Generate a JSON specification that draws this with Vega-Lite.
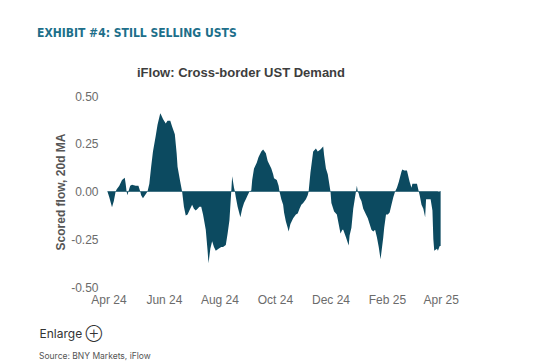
{
  "$schema": "https://vega.github.io/schema/vega-lite/v6.json",
  "background": "white",
  "padding": {"left": 37, "top": 26, "right": 5, "bottom": 3},
  "config": {"view": {"stroke": null}, "font": "Liberation Sans"},
  "title": {"text": "EXHIBIT #4: STILL SELLING USTS", "anchor": "start", "font": "'DejaVu Sans Condensed', 'Liberation Sans', sans-serif", "fontSize": 12, "fontWeight": "bold", "color": "#1d6f8a", "dx": -2, "offset": 27},
  "vconcat": [
    {
      "title": {"text": "Source:  BNY Markets, iFlow", "orient": "bottom", "anchor": "start", "font": "Inter", "fontSize": 8.5, "fontWeight": "normal", "color": "#555555", "dx": 0, "offset": 12.5},
      "vconcat": [
        {
          "width": 345,
          "height": 191,
          "title": {"text": "iFlow: Cross-border UST Demand", "font": "Liberation Sans", "fontSize": 13, "fontWeight": "bold", "color": "#3d3d3d", "anchor": "middle", "dx": -33.5, "offset": 10.5},
          "data": {"values": [
            {"date": "2024-03-31", "flow": 0},
            {"date": "2024-04-02", "flow": -0.03},
            {"date": "2024-04-05", "flow": -0.082},
            {"date": "2024-04-07", "flow": -0.05},
            {"date": "2024-04-09", "flow": 0},
            {"date": "2024-04-10", "flow": 0.01},
            {"date": "2024-04-13", "flow": 0.03},
            {"date": "2024-04-16", "flow": 0.06},
            {"date": "2024-04-19", "flow": 0.072},
            {"date": "2024-04-20", "flow": 0.04},
            {"date": "2024-04-21", "flow": 0},
            {"date": "2024-04-22", "flow": -0.02},
            {"date": "2024-04-23", "flow": 0},
            {"date": "2024-04-25", "flow": 0.03},
            {"date": "2024-04-27", "flow": 0.035},
            {"date": "2024-05-01", "flow": 0.03},
            {"date": "2024-05-04", "flow": 0.03},
            {"date": "2024-05-06", "flow": 0},
            {"date": "2024-05-07", "flow": -0.02},
            {"date": "2024-05-09", "flow": -0.035},
            {"date": "2024-05-12", "flow": -0.015},
            {"date": "2024-05-14", "flow": 0},
            {"date": "2024-05-16", "flow": 0.04},
            {"date": "2024-05-18", "flow": 0.13},
            {"date": "2024-05-20", "flow": 0.21},
            {"date": "2024-05-23", "flow": 0.29},
            {"date": "2024-05-25", "flow": 0.35},
            {"date": "2024-05-28", "flow": 0.41},
            {"date": "2024-05-29", "flow": 0.40},
            {"date": "2024-05-31", "flow": 0.38},
            {"date": "2024-06-03", "flow": 0.356},
            {"date": "2024-06-05", "flow": 0.37},
            {"date": "2024-06-08", "flow": 0.37},
            {"date": "2024-06-10", "flow": 0.34},
            {"date": "2024-06-13", "flow": 0.30},
            {"date": "2024-06-15", "flow": 0.20},
            {"date": "2024-06-16", "flow": 0.13},
            {"date": "2024-06-19", "flow": 0.05},
            {"date": "2024-06-21", "flow": 0},
            {"date": "2024-06-23", "flow": -0.08},
            {"date": "2024-06-25", "flow": -0.125},
            {"date": "2024-06-27", "flow": -0.12},
            {"date": "2024-06-29", "flow": -0.10},
            {"date": "2024-07-02", "flow": -0.07},
            {"date": "2024-07-04", "flow": -0.09},
            {"date": "2024-07-06", "flow": -0.10},
            {"date": "2024-07-08", "flow": -0.09},
            {"date": "2024-07-10", "flow": -0.08},
            {"date": "2024-07-12", "flow": -0.08},
            {"date": "2024-07-14", "flow": -0.12},
            {"date": "2024-07-17", "flow": -0.20},
            {"date": "2024-07-19", "flow": -0.31},
            {"date": "2024-07-20", "flow": -0.376},
            {"date": "2024-07-22", "flow": -0.30},
            {"date": "2024-07-24", "flow": -0.26},
            {"date": "2024-07-26", "flow": -0.29},
            {"date": "2024-07-28", "flow": -0.31},
            {"date": "2024-07-31", "flow": -0.30},
            {"date": "2024-08-03", "flow": -0.29},
            {"date": "2024-08-05", "flow": -0.29},
            {"date": "2024-08-08", "flow": -0.28},
            {"date": "2024-08-10", "flow": -0.22},
            {"date": "2024-08-12", "flow": -0.15},
            {"date": "2024-08-14", "flow": 0},
            {"date": "2024-08-15", "flow": 0.08},
            {"date": "2024-08-17", "flow": 0.02},
            {"date": "2024-08-18", "flow": 0},
            {"date": "2024-08-19", "flow": -0.03},
            {"date": "2024-08-21", "flow": -0.08},
            {"date": "2024-08-24", "flow": -0.135},
            {"date": "2024-08-26", "flow": -0.09},
            {"date": "2024-08-28", "flow": -0.06},
            {"date": "2024-08-30", "flow": -0.04},
            {"date": "2024-09-01", "flow": -0.02},
            {"date": "2024-09-03", "flow": 0},
            {"date": "2024-09-05", "flow": 0.005},
            {"date": "2024-09-06", "flow": 0.06},
            {"date": "2024-09-08", "flow": 0.12},
            {"date": "2024-09-11", "flow": 0.15},
            {"date": "2024-09-13", "flow": 0.18},
            {"date": "2024-09-16", "flow": 0.21},
            {"date": "2024-09-18", "flow": 0.22},
            {"date": "2024-09-21", "flow": 0.20},
            {"date": "2024-09-23", "flow": 0.16},
            {"date": "2024-09-25", "flow": 0.14},
            {"date": "2024-09-27", "flow": 0.12},
            {"date": "2024-09-29", "flow": 0.09},
            {"date": "2024-09-30", "flow": 0.07},
            {"date": "2024-10-03", "flow": 0.06},
            {"date": "2024-10-05", "flow": 0.03},
            {"date": "2024-10-06", "flow": 0},
            {"date": "2024-10-08", "flow": -0.04},
            {"date": "2024-10-10", "flow": -0.07},
            {"date": "2024-10-11", "flow": -0.11},
            {"date": "2024-10-13", "flow": -0.157},
            {"date": "2024-10-15", "flow": -0.19},
            {"date": "2024-10-16", "flow": -0.21},
            {"date": "2024-10-18", "flow": -0.17},
            {"date": "2024-10-21", "flow": -0.14},
            {"date": "2024-10-24", "flow": -0.12},
            {"date": "2024-10-26", "flow": -0.115},
            {"date": "2024-10-28", "flow": -0.09},
            {"date": "2024-10-30", "flow": -0.07},
            {"date": "2024-11-01", "flow": -0.06},
            {"date": "2024-11-04", "flow": -0.04},
            {"date": "2024-11-06", "flow": -0.02},
            {"date": "2024-11-07", "flow": 0},
            {"date": "2024-11-09", "flow": 0.10},
            {"date": "2024-11-12", "flow": 0.21},
            {"date": "2024-11-15", "flow": 0.225},
            {"date": "2024-11-17", "flow": 0.21},
            {"date": "2024-11-20", "flow": 0.22},
            {"date": "2024-11-23", "flow": 0.236},
            {"date": "2024-11-24", "flow": 0.19},
            {"date": "2024-11-26", "flow": 0.12},
            {"date": "2024-11-28", "flow": 0.09},
            {"date": "2024-11-29", "flow": 0.06},
            {"date": "2024-12-01", "flow": 0},
            {"date": "2024-12-02", "flow": -0.06},
            {"date": "2024-12-05", "flow": -0.105},
            {"date": "2024-12-08", "flow": -0.12},
            {"date": "2024-12-10", "flow": -0.17},
            {"date": "2024-12-12", "flow": -0.22},
            {"date": "2024-12-14", "flow": -0.20},
            {"date": "2024-12-15", "flow": -0.20},
            {"date": "2024-12-18", "flow": -0.24},
            {"date": "2024-12-21", "flow": -0.283},
            {"date": "2024-12-22", "flow": -0.23},
            {"date": "2024-12-24", "flow": -0.19},
            {"date": "2024-12-26", "flow": -0.09},
            {"date": "2024-12-28", "flow": -0.03},
            {"date": "2024-12-29", "flow": 0},
            {"date": "2024-12-30", "flow": 0.03},
            {"date": "2024-12-31", "flow": 0},
            {"date": "2025-01-01", "flow": -0.01},
            {"date": "2025-01-02", "flow": -0.03},
            {"date": "2025-01-04", "flow": -0.05},
            {"date": "2025-01-06", "flow": -0.09},
            {"date": "2025-01-09", "flow": -0.12},
            {"date": "2025-01-11", "flow": -0.14},
            {"date": "2025-01-13", "flow": -0.17},
            {"date": "2025-01-15", "flow": -0.20},
            {"date": "2025-01-17", "flow": -0.21},
            {"date": "2025-01-19", "flow": -0.20},
            {"date": "2025-01-21", "flow": -0.24},
            {"date": "2025-01-23", "flow": -0.29},
            {"date": "2025-01-25", "flow": -0.355},
            {"date": "2025-01-28", "flow": -0.24},
            {"date": "2025-01-29", "flow": -0.19},
            {"date": "2025-01-31", "flow": -0.12},
            {"date": "2025-02-02", "flow": -0.12},
            {"date": "2025-02-04", "flow": -0.11},
            {"date": "2025-02-06", "flow": -0.07},
            {"date": "2025-02-08", "flow": -0.03},
            {"date": "2025-02-10", "flow": 0},
            {"date": "2025-02-12", "flow": 0.02},
            {"date": "2025-02-14", "flow": 0.05},
            {"date": "2025-02-17", "flow": 0.105},
            {"date": "2025-02-18", "flow": 0.115},
            {"date": "2025-02-20", "flow": 0.11},
            {"date": "2025-02-23", "flow": 0.11},
            {"date": "2025-02-26", "flow": 0.05},
            {"date": "2025-02-28", "flow": 0.02},
            {"date": "2025-03-01", "flow": 0.04},
            {"date": "2025-03-03", "flow": 0.04},
            {"date": "2025-03-06", "flow": 0.04},
            {"date": "2025-03-08", "flow": 0},
            {"date": "2025-03-09", "flow": -0.02},
            {"date": "2025-03-11", "flow": -0.07},
            {"date": "2025-03-13", "flow": -0.09},
            {"date": "2025-03-15", "flow": -0.135},
            {"date": "2025-03-16", "flow": -0.04},
            {"date": "2025-03-18", "flow": -0.04},
            {"date": "2025-03-20", "flow": -0.04},
            {"date": "2025-03-21", "flow": -0.04},
            {"date": "2025-03-23", "flow": -0.10},
            {"date": "2025-03-24", "flow": -0.25},
            {"date": "2025-03-25", "flow": -0.31},
            {"date": "2025-03-28", "flow": -0.30},
            {"date": "2025-03-29", "flow": -0.31},
            {"date": "2025-03-31", "flow": -0.285},
            {"date": "2025-04-01", "flow": -0.285}
          ]},
          "encoding": {
            "x": {
              "field": "date",
              "type": "temporal",
              "scale": {"type": "utc", "domain": [{"year": 2024, "month": "mar", "date": 25, "utc": true}, {"year": 2025, "month": "apr", "date": 8, "utc": true}]},
              "axis": {
                "values": [
                  {"year": 2024, "month": "apr", "date": 1, "utc": true},
                  {"year": 2024, "month": "jun", "date": 1, "utc": true},
                  {"year": 2024, "month": "aug", "date": 1, "utc": true},
                  {"year": 2024, "month": "oct", "date": 1, "utc": true},
                  {"year": 2024, "month": "dec", "date": 1, "utc": true},
                  {"year": 2025, "month": "feb", "date": 1, "utc": true},
                  {"year": 2025, "month": "apr", "date": 1, "utc": true}
                ],
                "format": "%b %y",
                "labelFont": "Liberation Sans",
                "labelFontSize": 12,
                "labelColor": "#6b6b6b",
                "labelPadding": 7,
                "labelFlush": false,
                "ticks": false,
                "domain": false,
                "grid": false,
                "title": "Enlarge ⊕",
                "titleFont": "Inter",
                "titleFontSize": 12,
                "titleFontWeight": "normal",
                "titleColor": "#333333",
                "titleX": -63,
                "titleAlign": "left",
                "titlePadding": 23
              }
            },
            "y": {
              "field": "flow",
              "type": "quantitative",
              "scale": {"domain": [-0.5, 0.5], "nice": false, "zero": false},
              "axis": {
                "values": [-0.5, -0.25, 0, 0.25, 0.5],
                "labelExpr": "replace(format(datum.value, '.2f'), '−', '-')",
                "labelFont": "Liberation Sans",
                "labelFontSize": 12,
                "labelColor": "#6b6b6b",
                "labelPadding": 4,
                "ticks": false,
                "domain": false,
                "grid": false,
                "title": "Scored flow, 20d MA",
                "titleFont": "Liberation Sans",
                "titleFontSize": 12,
                "titleFontWeight": "bold",
                "titleColor": "#555555",
                "titlePadding": 3
              }
            }
          },
          "layer": [
            {
              "mark": {"type": "rule", "color": "#7a9eab", "strokeWidth": 1},
              "encoding": {
                "x": {"aggregate": "min", "field": "date", "type": "temporal"},
                "x2": {"aggregate": "max", "field": "date"},
                "y": {"datum": 0}
              }
            },
            {
              "mark": {"type": "area", "color": "#0c4a60", "interpolate": "linear"}
            }
          ]
        }
      ]
    }
  ]
}
